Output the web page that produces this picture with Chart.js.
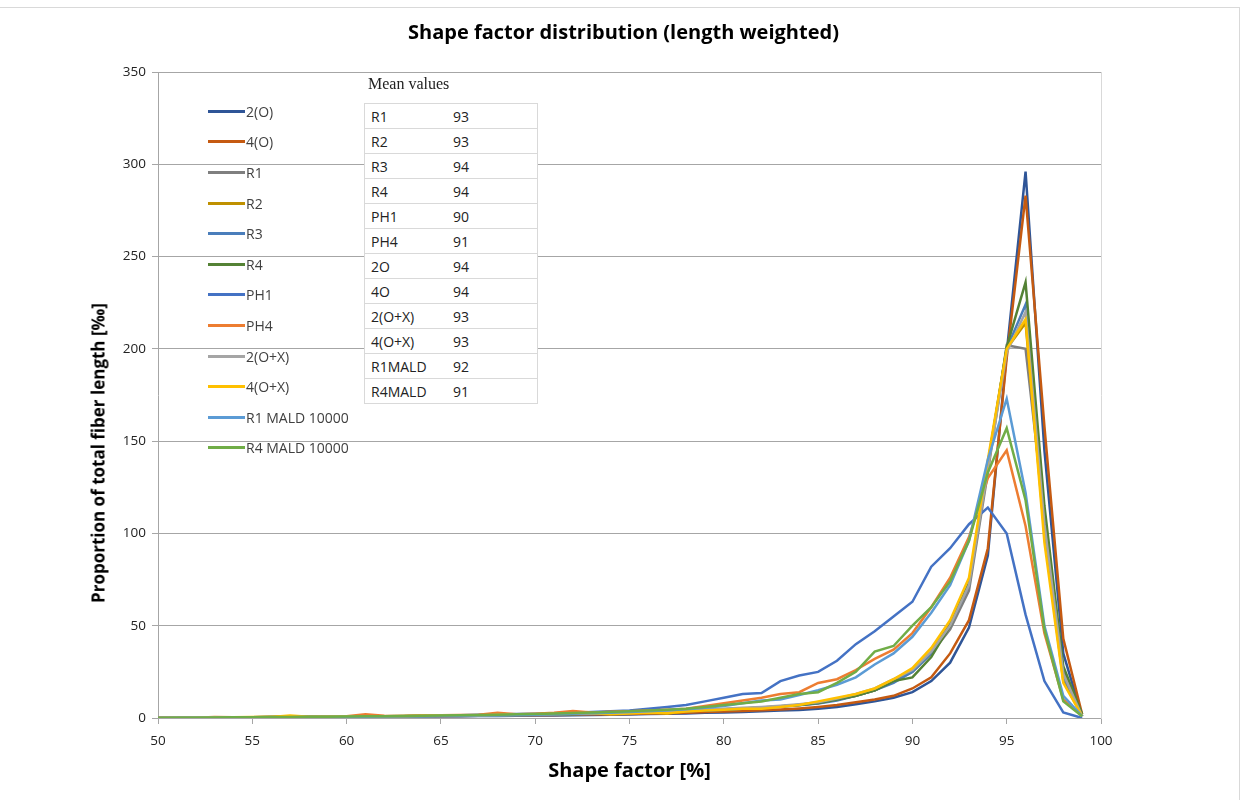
<!DOCTYPE html>
<html>
<head>
<meta charset="utf-8">
<script src="https://cdn.jsdelivr.net/npm/chart.js@4.4.0/dist/chart.umd.min.js"></script>
<style>
html, body { margin: 0; padding: 0; background: #fff; }
#wrap { position: relative; width: 1247px; height: 800px; overflow: hidden; font-family: 'Open Sans', sans-serif; }
#frame { position: absolute; left: -2px; top: 7px; width: 1240px; height: 800px; border: 1px solid #d9d9d9; }
#myChart { position: absolute; left: 0; top: 0; }
#yTitle { position: absolute; left: 98px; top: 453px; transform: translate(-50%, -50%) rotate(-90deg); white-space: nowrap; font-size: 17px; font-weight: bold; color: #000; }
#legend { position: absolute; left: 208px; top: 96px; }
.item { height: 30.6px; display: flex; align-items: center; font-size: 14px; color: #404040; }
.swatch { width: 37px; height: 3px; margin-right: 1px; }
#meanTitle { position: absolute; left: 368px; top: 75px; font-family: 'Liberation Serif', serif; font-size: 16px; color: #222; }
#meanTable { position: absolute; left: 364px; top: 103px; width: 174px; border-collapse: collapse; background: #fff; border: 1px solid #d9d9d9; }
#meanTable td { border-top: 1px solid #d9d9d9; height: 24px; padding: 0 0 0 6px; font-size: 14px; color: #222; }
#meanTable td.v { width: 84px; }
</style>
</head>
<body>
<div id="wrap">
  <div id="frame"></div>
  <canvas id="myChart" width="1247" height="800"></canvas>
  <div id="yTitle">Proportion of total fiber length [‰]</div>
  <div id="legend"></div>
  <div id="meanTitle">Mean values</div>
  <table id="meanTable"></table>
</div>
<script>
// shape factor classes 50..99 %
const shapeFactor = [50, 51, 52, 53, 54, 55, 56, 57, 58, 59,
    60, 61, 62, 63, 64, 65, 66, 67, 68, 69,
    70, 71, 72, 73, 74, 75, 76, 77, 78, 79,
    80, 81, 82, 83, 84, 85, 86, 87, 88, 89,
    90, 91, 92, 93, 94, 95, 96, 97, 98, 99];

const yTicks = [0, 50, 100, 150, 200, 250, 300, 350];
const xTicks = [50, 55, 60, 65, 70, 75, 80, 85, 90, 95, 100];

const s2O = [0, 0, 0.1, 0.2, 0.3, 0.3, 0.4, 0.4, 0.5, 0.5,
    0.6, 0.7, 0.7, 0.8, 0.9, 0.9, 1.0, 1.1, 1.1, 1.2,
    1.3, 1.4, 1.5, 1.6, 1.8, 1.9, 2.1, 2.3, 2.5, 2.8,
    3.0, 3.3, 3.6, 4.0, 4.4, 5.0, 6.0, 7.5, 9.0, 11,
    14, 20, 30, 49, 88, 198, 296, 145, 35, 1];
const s4O = [0, 0, 0.1, 0.2, 0.3, 0.4, 0.4, 0.5, 0.5, 0.6,
    0.7, 0.8, 0.8, 0.9, 1.0, 1.0, 1.1, 1.2, 1.3, 1.4,
    1.5, 1.6, 1.7, 1.9, 2.0, 2.2, 2.4, 2.6, 2.9, 3.2,
    3.5, 3.8, 4.2, 4.6, 5.2, 6.0, 7.0, 8.5, 10, 12,
    16, 22, 35, 53, 92, 195, 283, 158, 43, 2];
const sR1 = [0, 0, 0.2, 0.3, 0.4, 0.4, 0.5, 0.6, 0.6, 0.7,
    0.8, 0.9, 1.0, 1.0, 1.1, 1.2, 1.3, 1.4, 1.5, 1.6,
    1.8, 2.0, 2.2, 2.4, 2.6, 2.9, 3.2, 3.5, 3.9, 4.3,
    4.7, 5.1, 5.6, 6.2, 7.0, 8.0, 10, 12, 15, 20,
    25, 35, 48, 69, 133, 202, 200, 110, 25, 1];
const sR2 = [0, 0.1, 0.2, 0.3, 0.3, 0.4, 0.5, 0.8, 0.6, 0.6,
    0.7, 0.9, 1.0, 1.0, 1.1, 1.2, 1.3, 1.3, 1.5, 1.6,
    1.8, 2.0, 2.1, 2.3, 2.5, 2.8, 3.1, 2.4, 3.6, 4.0,
    4.5, 5.0, 5.5, 6.3, 7.2, 8.2, 10, 12, 15, 20,
    26, 36, 51, 73, 136, 200, 214, 100, 20, 1];
const sR3 = [0, 0.1, 0.1, 0.2, 0.3, 0.4, 0.4, 0.5, 0.5, 0.6,
    0.7, 0.7, 0.8, 0.9, 1.0, 1.1, 1.1, 1.2, 1.3, 1.5,
    1.6, 1.8, 2.0, 2.2, 2.4, 2.7, 3.0, 3.3, 3.7, 4.1,
    4.5, 5.0, 5.5, 6.1, 6.9, 7.9, 9.5, 12, 15, 19,
    25, 35, 50, 72, 138, 200, 224, 105, 23, 1];
const sR4 = [0, 0.1, 0.2, 0.2, 0.3, 0.4, 0.5, 0.5, 0.6, 0.7,
    0.8, 0.8, 0.9, 1.0, 1.1, 1.2, 1.3, 1.4, 1.5, 1.7,
    1.8, 2.0, 2.2, 2.4, 2.7, 3.0, 3.3, 3.6, 4.0, 4.4,
    4.8, 5.2, 5.7, 6.3, 7.1, 8.1, 10, 12, 15, 20,
    22, 33, 50, 73, 137, 201, 236, 115, 28, 2];
const sPH1 = [0, 0.1, 0.1, 0.2, 0.3, 0.3, 0.4, 0.5, 0.6, 0.7,
    0.8, 0.9, 1.0, 1.1, 1.3, 1.4, 1.5, 1.7, 1.9, 2.1,
    2.3, 2.6, 2.9, 3.2, 3.6, 4.0, 5.0, 6.0, 7.0, 9.0,
    11, 13, 13.5, 20, 23, 25, 31, 40, 47, 55,
    63, 82, 92, 105, 114, 100, 56, 20, 3, 0];
const sPH4 = [0, 0.1, 0.2, 0.5, 0.4, 0.4, 0.5, 0.6, 0.7, 0.8,
    0.9, 2.0, 1.2, 1.1, 1.4, 1.5, 1.6, 1.8, 2.8, 2.0,
    2.3, 2.8, 3.8, 3.0, 3.4, 3.7, 4.0, 4.5, 5.0, 6.5,
    8, 9.5, 11, 13, 14, 19, 21, 26, 32, 37,
    46, 60, 76, 98, 130, 145, 104, 46, 10, 1];
const s2OX = [0, 0.1, 0.2, 0.3, 0.3, 0.4, 0.5, 0.6, 0.6, 0.7,
    0.8, 0.9, 0.9, 1.0, 1.1, 1.2, 1.3, 1.4, 1.6, 1.7,
    1.9, 2.1, 2.3, 2.5, 2.8, 3.1, 3.4, 3.7, 4.1, 4.5,
    5.0, 5.5, 6.0, 6.7, 7.5, 8.5, 10.5, 13, 16, 21,
    26, 36, 50, 72, 135, 198, 220, 105, 24, 1];
const s4OX = [0, 0.1, 0.2, 0.3, 0.4, 0.5, 0.6, 1.3, 0.7, 0.7,
    0.8, 0.9, 1.0, 1.1, 1.2, 1.3, 1.4, 1.3, 1.6, 1.8,
    2.0, 2.2, 2.3, 2.6, 2.0, 2.4, 2.8, 2.6, 3.5, 4.0,
    4.5, 5.0, 5.0, 6.0, 7.0, 9.0, 11, 13, 16, 21,
    27, 38, 53, 76, 140, 200, 216, 95, 19, 1];
const sR1MALD = [0, 0.1, 0.1, 0.2, 0.3, 0.3, 0.4, 0.4, 0.5, 0.6,
    0.6, 0.7, 0.8, 0.9, 1.0, 1.1, 1.2, 1.3, 1.4, 1.6,
    1.8, 2.0, 2.3, 2.6, 2.9, 3.3, 3.7, 4.2, 4.8, 5.5,
    6.5, 8.0, 9.5, 10, 12.5, 15, 18, 22, 29, 35,
    44, 57, 72, 96, 140, 173, 122, 50, 12, 1];
const sR4MALD = [0, 0.1, 0.2, 0.3, 0.4, 0.4, 0.5, 0.6, 0.7, 0.7,
    0.8, 0.9, 1.0, 1.1, 1.2, 1.4, 1.5, 1.6, 1.8, 2.0,
    2.2, 2.4, 2.7, 3.0, 3.3, 3.6, 4.0, 4.5, 5.0, 6.0,
    7, 8, 9, 11, 13, 14, 19, 25, 36, 39,
    50, 60, 74, 96, 133, 157, 118, 48, 9, 1];

const seriesNames = ['2(O)', '4(O)', 'R1', 'R2', 'R3', 'R4', 'PH1', 'PH4', '2(O+X)', '4(O+X)', 'R1 MALD 10000', 'R4 MALD 10000'];
const seriesValues = [s2O, s4O, sR1, sR2, sR3, sR4, sPH1, sPH4, s2OX, s4OX, sR1MALD, sR4MALD];
const seriesColors = ['#2F5597', '#C55A11', '#7F7F7F', '#BF9000', '#4A7EBB', '#548235',
    '#4472C4', '#ED7D31', '#A5A5A5', '#FFC000', '#5B9BD5', '#70AD47'];

const meanLabels = ['R1', 'R2', 'R3', 'R4', 'PH1', 'PH4', '2O', '4O', '2(O+X)', '4(O+X)', 'R1MALD', 'R4MALD'];
const meanValues = [93, 93, 94, 94, 90, 91, 94, 94, 93, 93, 92, 91];

const ctx = document.getElementById('myChart').getContext('2d');
const myChart = new Chart(ctx, {
    type: 'line',
    data: {
        datasets: seriesNames.map((name, i) => ({
            label: name,
            data: shapeFactor.map((x, j) => ({ x: x, y: seriesValues[i][j] })),
            borderColor: seriesColors[i],
            backgroundColor: seriesColors[i],
            borderWidth: 2.5,
            pointRadius: 0,
            tension: 0,
            fill: false,
            order: seriesNames.length - i
        }))
    },
    options: {
        responsive: false,
        animation: false,
        layout: { padding: 0 },
        plugins: {
            legend: { display: false },
            tooltip: { enabled: false },
            title: {
                display: true,
                text: 'Shape factor distribution (length weighted)',
                color: '#000',
                font: { family: 'Open Sans', size: 20, weight: 'bold' },
                padding: { top: 21, bottom: 27 }
            }
        },
        scales: {
            x: {
                type: 'linear',
                min: 50,
                max: 100,
                afterBuildTicks: (scale) => { scale.ticks = xTicks.map(v => ({ value: v })); },
                afterFit: (scale) => { scale.height = 82; },
                ticks: { color: '#222', font: { family: 'Open Sans', size: 13.5 }, padding: 9 },
                grid: { drawOnChartArea: false, color: '#a6a6a6', tickLength: 6 },
                border: { color: '#a6a6a6' },
                title: {
                    display: true,
                    text: 'Shape factor [%]',
                    color: '#000',
                    font: { family: 'Open Sans', size: 20, weight: 'bold' },
                    padding: { top: 0, bottom: 17 }
                }
            },
            y: {
                min: 0,
                max: 350,
                afterBuildTicks: (scale) => { scale.ticks = yTicks.map(v => ({ value: v })); },
                afterFit: (scale) => { scale.width = 158; },
                ticks: { color: '#222', font: { family: 'Open Sans', size: 13.5 }, padding: 6 },
                grid: { color: '#a6a6a6', tickLength: 6 },
                border: { color: '#a6a6a6' }
            },
            // empty right axis: gives the plot its right edge line and margin
            y2: {
                position: 'right',
                min: 0,
                max: 350,
                afterFit: (scale) => { scale.width = 146; },
                ticks: { display: false },
                grid: { display: false },
                border: { display: true, color: '#d9d9d9' }
            }
        }
    }
});

// legend
const legendEl = document.getElementById('legend');
seriesNames.forEach((name, i) => {
    const item = document.createElement('div');
    item.className = 'item';
    item.innerHTML = '<span class="swatch" style="background:' + seriesColors[i] + '"></span>' + name;
    legendEl.appendChild(item);
});

// mean values table
const tableEl = document.getElementById('meanTable');
meanLabels.forEach((label, i) => {
    const tr = document.createElement('tr');
    tr.innerHTML = '<td>' + label + '</td><td class="v">' + meanValues[i] + '</td>';
    tableEl.appendChild(tr);
});
</script>
</body>
</html>
